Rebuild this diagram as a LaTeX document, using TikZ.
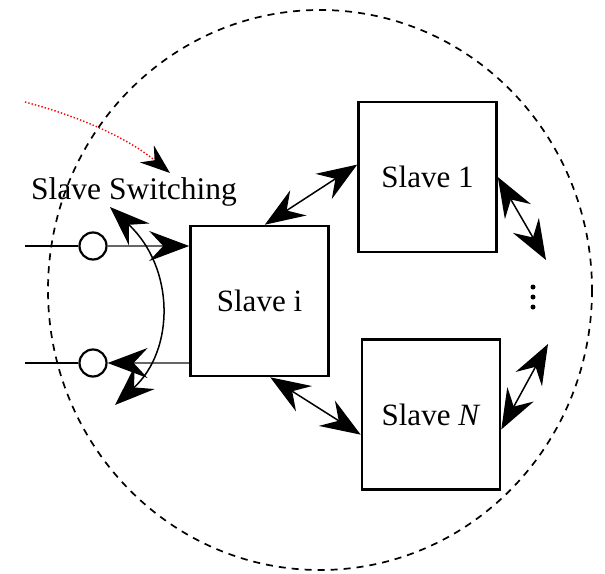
\documentclass[tikz,border=0pt]{standalone}
\usepackage{fontspec}
\setmainfont{Liberation Serif}
\usetikzlibrary{arrows.meta,calc}
\begin{document}
\begin{tikzpicture}[x=1pt,y=-1pt,
  slavebox/.style={draw,line width=2.6pt,minimum width=138pt,minimum height=150pt,inner sep=0pt,font=\fontsize{31}{36}\selectfont},
  link/.style={line width=1.5pt,{Stealth[length=40pt,width=30pt,inset=14pt]}-{Stealth[length=40pt,width=30pt,inset=14pt]}},
  port/.style={circle,draw,line width=2.2pt,minimum size=27pt,inner sep=0pt},
  feed/.style={line width=1.4pt,gray!80!black,-{Stealth[length=40pt,width=30pt,inset=14pt,black]}},
  wire/.style={line width=2.4pt},
  dot/.style={circle,fill,inner sep=0pt,minimum size=5pt}
]
\useasboundingbox (0,0) rectangle (605,573);
% dashed ellipse
\draw[dashed,line width=1.7pt,dash pattern=on 7pt off 6pt] (320,290) ellipse [x radius=272, y radius=280];

\node[slavebox] (s1) at (427.5,177) {Slave 1};
\node[slavebox] (si) at (259.5,301) {Slave i};
\node[slavebox] (sN) at (431,414.5) {Slave \textit{N}};

\node[port] (c1) at (93,246) {};
\node[port] (c2) at (93,363) {};
\coordinate (l1) at (25,246);
\coordinate (l2) at (25,363);
\draw[wire] (l1) -- (c1.west);
\draw[wire] (l2) -- (c2.west);
\draw[feed] (c1.east) -- (c1 -| si.west);
\draw[feed] (c2 -| si.west) -- (c2.east);

% curved switching arrow
\coordinate (sw1) at (110,207);
\coordinate (sw2) at (115,405);
\draw[link] (sw1) .. controls (175,268) and (175,350) .. (sw2);

% links between slaves
\draw[link] (si.86) -- (s1.170);
\draw[link] (si.-82) -- (sN.196);
\coordinate (e1) at (546,260);
\coordinate (e2) at (548,344);
\draw[link] (s1.east) -- (e1);
\draw[link] (sN.-12) -- (e2);
\node[dot] (d1) at (533,287) {};
\node[dot] (d2) at (533,297) {};
\node[dot] (d3) at (533,307) {};

% label and red dotted arrow
\node[font=\fontsize{31.5}{36}\selectfont] (lab) at (134,192) {Slave Switching};
\coordinate (r0) at (25,102);
\coordinate (r1) at (170,173);
\draw[red,dotted,line width=1.4pt,-{Stealth[length=30pt,width=22pt,inset=10pt,black]}] (r0) .. controls (85,118) and (130,140) .. (r1);
\end{tikzpicture}
\end{document}
